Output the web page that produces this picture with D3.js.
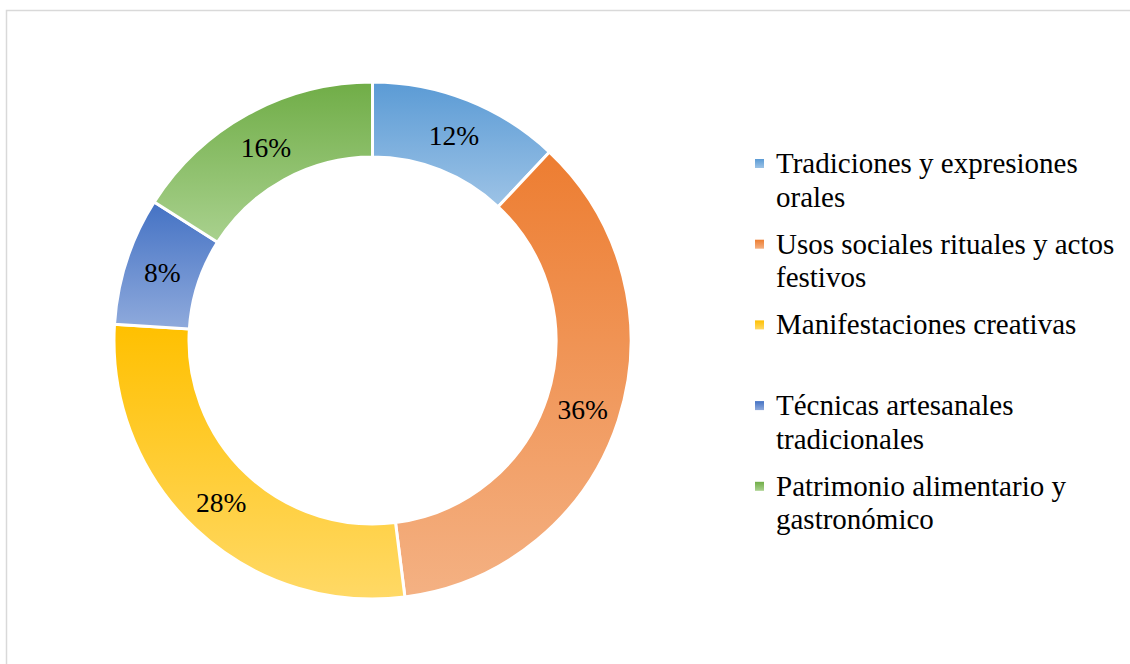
<!DOCTYPE html>
<html><head><meta charset="utf-8">
<script src="https://cdn.jsdelivr.net/npm/d3@7"></script>
<style>body{margin:0;background:#fff;}svg{display:block;} text{font-family:"Liberation Serif","Times New Roman",Times,serif;}</style>
</head><body>
<svg id="chart" width="1130" height="664"></svg>
<script>
const categories = ["Tradiciones y expresiones orales","Usos sociales rituales y actos festivos","Manifestaciones creativas","Técnicas artesanales tradicionales","Patrimonio alimentario y gastronómico"];
const legendLines = [["Tradiciones y expresiones","orales"],["Usos sociales rituales y actos","festivos"],["Manifestaciones creativas"],["Técnicas artesanales","tradicionales"],["Patrimonio alimentario y","gastronómico"]];
const values = [12, 36, 28, 8, 16];
const topColors = ["#5B9BD5","#ED7D31","#FFC000","#4472C4","#70AD47"];
const bottomColors = ["#9DC3E6","#F4B183","#FFD966","#8FAADC","#A9D18E"];

const svg = d3.select("#chart");
svg.append("rect").attr("x",6.5).attr("y",10.5).attr("width",1130).attr("height",700)
  .attr("fill","#fff").attr("stroke","#d9d9d9").attr("stroke-width",1.5);

const defs = svg.append("defs");
values.forEach((v,i)=>{
  const g = defs.append("linearGradient").attr("id","g"+i).attr("x1",0).attr("y1",0).attr("x2",0).attr("y2",1);
  g.append("stop").attr("offset","0%").attr("stop-color",topColors[i]);
  g.append("stop").attr("offset","100%").attr("stop-color",bottomColors[i]);
});

const cx = 372.5, cy = 340.5, rOut = 258.5, rIn = 183.5;
const pie = d3.pie().sort(null).value(d=>d);
const arcs = pie(values);
const arc = d3.arc().innerRadius(rIn).outerRadius(rOut);
const gPie = svg.append("g").attr("transform",`translate(${cx},${cy})`);
gPie.selectAll("path").data(arcs).join("path")
  .attr("d",arc).attr("fill",(d,i)=>`url(#g${i})`)
  .attr("stroke","#fff").attr("stroke-width",3).attr("stroke-linejoin","miter");
gPie.selectAll("text").data(arcs).join("text")
  .attr("transform",d=>`translate(${arc.centroid(d)})`)
  .attr("text-anchor","middle").attr("dy","0.36em")
  .style("font-size","27.5px").attr("fill","#000")
  .text(d=>d.data+"%");

const legendX = 755, firstBaseline = 173, itemStep = 80.7, lineStep = 33.6;
const leg = svg.append("g");
legendLines.forEach((lines,i)=>{
  const by = firstBaseline + i*itemStep;
  leg.append("rect").attr("x",legendX).attr("y",by-14).attr("width",9).attr("height",9)
    .attr("fill",`url(#g${i})`);
  const t = leg.append("text").style("font-size","29px").attr("fill","#000");
  lines.forEach((l,j)=>{
    t.append("tspan").attr("x",776).attr("y",by + j*lineStep).text(l);
  });
});
</script>
</body></html>
